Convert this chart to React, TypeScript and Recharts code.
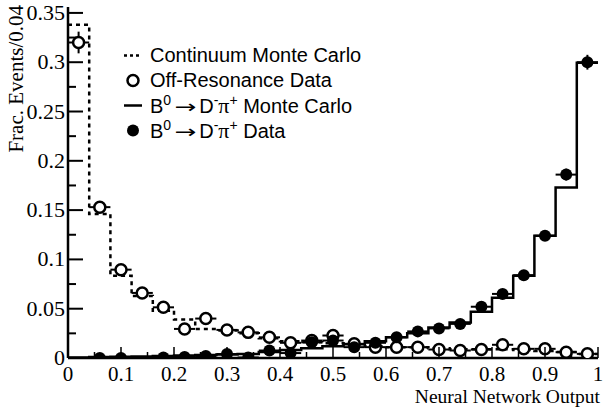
import React from 'react';
import { ComposedChart, Line, Scatter, ErrorBar, XAxis, YAxis, Legend } from 'recharts';

// bin centres (bin width 0.04)
const binCenters = [
  0.02, 0.06, 0.1, 0.14, 0.18, 0.22, 0.26, 0.3, 0.34, 0.38, 0.42, 0.46, 0.5,
  0.54, 0.58, 0.62, 0.66, 0.7, 0.74, 0.78, 0.82, 0.86, 0.9, 0.94, 0.98,
];

const continuumMC = [
  0.338, 0.146, 0.0835, 0.063, 0.048, 0.039, 0.0295, 0.028, 0.025, 0.02, 0.017, 0.016, 0.015,
  0.014, 0.012, 0.011, 0.011, 0.01, 0.009, 0.009, 0.009, 0.008, 0.007, 0.006, 0.004,
];

const signalMC = [
  0.0005, 0.001, 0.0012, 0.0015, 0.002, 0.0025, 0.003, 0.0035, 0.004, 0.006, 0.008, 0.01, 0.012,
  0.014, 0.017, 0.021, 0.025, 0.031, 0.036, 0.047, 0.061, 0.0835, 0.124, 0.173, 0.2995,
];

const offResData = [
  0.32, 0.153, 0.0896, 0.066, 0.0514, 0.0295, 0.04, 0.0285, 0.026, 0.021, 0.0154, 0.0177, 0.0228,
  0.0144, 0.011, 0.011, 0.011, 0.0086, 0.0076, 0.0086, 0.0134, 0.0093, 0.0093, 0.0059, 0.0042,
];
const offResErr = [
  0.011, 0.004, 0.003, 0.002, 0.002, 0.002, 0.002, 0.002, 0.002, 0.002, 0.002, 0.002, 0.002,
  0.002, 0.002, 0.002, 0.002, 0.002, 0.002, 0.002, 0.002, 0.002, 0.002, 0.002, 0.002,
];

const signalData = [
  null, 0, 0, null, 0.0005, 0.001, 0.002, 0.004, 0.0005, 0.0076, 0.005, 0.016, 0.0177,
  0.011, 0.0154, 0.021, 0.027, 0.03, 0.0346, 0.052, 0.065, 0.084, 0.124, 0.186, 0.3,
];
const signalErr = [
  0, 0.001, 0.001, 0, 0.001, 0.001, 0.001, 0.001, 0.001, 0.001, 0.001, 0.002, 0.002,
  0.002, 0.002, 0.002, 0.002, 0.002, 0.002, 0.003, 0.003, 0.003, 0.004, 0.006, 0.0075,
];

const xTicks = [0, 0.05, 0.1, 0.15, 0.2, 0.25, 0.3, 0.35, 0.4, 0.45, 0.5, 0.55, 0.6, 0.65, 0.7, 0.75, 0.8, 0.85, 0.9, 0.95, 1];
const xTickLabels = ['0', '0.1', '0.2', '0.3', '0.4', '0.5', '0.6', '0.7', '0.8', '0.9', '1'];
const yTicks = [0, 0.025, 0.05, 0.075, 0.1, 0.125, 0.15, 0.175, 0.2, 0.225, 0.25, 0.275, 0.3, 0.325, 0.35];
const yTickLabels = ['0', '0.05', '0.1', '0.15', '0.2', '0.25', '0.3', '0.35'];

const HALF_BIN = 0.02;

const stepData = binCenters.map((c, i) => ({
  x: +(c - HALF_BIN).toFixed(2),
  cont: continuumMC[i],
  sig: signalMC[i],
}));
stepData.push({ x: 1, cont: continuumMC[continuumMC.length - 1], sig: signalMC[signalMC.length - 1] });

const offResPoints = binCenters.map((c, i) => ({ x: c, y: offResData[i], ex: HALF_BIN, ey: offResErr[i] }));
const signalPoints = binCenters
  .map((c, i) => ({ x: c, y: signalData[i], ex: HALF_BIN, ey: signalErr[i] }))
  .filter((p) => p.y !== null);

const SERIF = '"Liberation Serif", "Times New Roman", serif';
const SANS = '"Liberation Sans", Arial, sans-serif';

const isMajor = (v: number, step: number) => Math.abs(v / step - Math.round(v / step)) < 1e-6;

const BottomTick = (p: any) => {
  const v = p.payload.value;
  const major = isMajor(v, 0.1);
  return (
    <g>
      <line x1={p.x} y1={p.y} x2={p.x} y2={p.y - (major ? 11 : 6)} stroke="#000" strokeWidth={1.5} />
      {major && (
        <text x={p.x} y={p.y + 23} textAnchor="middle" fontFamily={SERIF} fontSize={21} fill="#000">
          {xTickLabels[Math.round(v / 0.1)]}
        </text>
      )}
    </g>
  );
};

const TopTick = (p: any) => {
  const major = isMajor(p.payload.value, 0.1);
  return <line x1={p.x} y1={p.y} x2={p.x} y2={p.y + (major ? 11 : 6)} stroke="#000" strokeWidth={1.5} />;
};

const LeftTick = (p: any) => {
  const v = p.payload.value;
  const major = isMajor(v, 0.05);
  return (
    <g>
      <line x1={p.x} y1={p.y} x2={p.x + (major ? 15 : 8)} y2={p.y} stroke="#000" strokeWidth={2} />
      {major && (
        <text x={p.x - 3} y={p.y + 7} textAnchor="end" fontFamily={SERIF} fontSize={22} fill="#000">
          {yTickLabels[Math.round(v / 0.05)]}
        </text>
      )}
    </g>
  );
};

const RightTick = (p: any) => {
  const major = isMajor(p.payload.value, 0.05);
  return <line x1={p.x} y1={p.y} x2={p.x - (major ? 15 : 8)} y2={p.y} stroke="#000" strokeWidth={2} />;
};

const OpenDot = (p: any) => <circle cx={p.cx} cy={p.cy} r={5.5} fill="#fff" stroke="#000" strokeWidth={2.5} />;
const FilledDot = (p: any) => <circle cx={p.cx} cy={p.cy} r={6} fill="#000" />;

const sup: React.CSSProperties = { fontSize: 14, position: 'relative', top: -8 };

const Decay = () => (
  <>
    B<span style={sup}>0</span>
    <span
      style={{
        display: 'inline-block',
        fontFamily: '"DejaVu Sans", sans-serif',
        fontSize: 18,
        margin: '0 6px 0 7px',
        transform: 'scaleX(1.45)',
      }}
    >
      →
    </span>
    D<span style={sup}>-</span>
    <span style={{ fontFamily: SERIF, fontSize: 22 }}>π</span>
    <span style={sup}>+</span>
  </>
);

const LegendBox = () => {
  const rows = [
    {
      icon: <line x1={2} y1={12.5} x2={20} y2={12.5} stroke="#000" strokeWidth={2.5} strokeDasharray="3 3" />,
      text: <>Continuum Monte Carlo</>,
    },
    {
      icon: <circle cx={11} cy={12.5} r={5.5} fill="#fff" stroke="#000" strokeWidth={2.5} />,
      text: <>Off-Resonance Data</>,
    },
    {
      icon: <line x1={2} y1={12.5} x2={20} y2={12.5} stroke="#000" strokeWidth={2.5} />,
      text: <><Decay /> Monte Carlo</>,
    },
    {
      icon: <circle cx={11} cy={12.5} r={6} fill="#000" />,
      text: <><Decay /> Data</>,
    },
  ];
  return (
    <div style={{ fontFamily: SANS, fontSize: 20, color: '#000' }}>
      {rows.map((r, i) => (
        <div key={i} style={{ display: 'flex', alignItems: 'center', height: 25, whiteSpace: 'nowrap' }}>
          <svg width={22} height={25}>{r.icon}</svg>
          <span style={{ marginLeft: 6 }}>{r.text}</span>
        </div>
      ))}
    </div>
  );
};

export default function App() {
  return (
    <div style={{ position: 'absolute', left: 0, top: 0, width: 605, height: 408, background: '#fff' }}>
      <ComposedChart width={605} height={408} margin={{ top: 7, right: 7, bottom: 0, left: 8 }}>
        <XAxis
          dataKey="x"
          type="number"
          domain={[0, 1]}
          ticks={xTicks}
          interval={0}
          allowDataOverflow
          height={50}
          tickSize={0}
          tickMargin={0}
          tick={BottomTick}
          axisLine={{ stroke: '#000', strokeWidth: 2.5 }}
          label={{
            content: () => (
              <text x={600} y={403} textAnchor="end" fontFamily={SERIF} fontSize={19.5} fill="#000">
                Neural Network Output
              </text>
            ),
          }}
        />
        <XAxis
          xAxisId="top"
          orientation="top"
          dataKey="x"
          type="number"
          domain={[0, 1]}
          ticks={xTicks}
          interval={0}
          allowDataOverflow
          height={0}
          tickSize={0}
          tickMargin={0}
          tick={TopTick}
          axisLine={{ stroke: '#000', strokeWidth: 2.5 }}
        />
        <YAxis
          type="number"
          domain={[0, 0.356]}
          ticks={yTicks}
          interval={0}
          allowDataOverflow
          width={60}
          tickSize={0}
          tickMargin={0}
          tick={LeftTick}
          axisLine={{ stroke: '#000', strokeWidth: 2.5 }}
          label={{
            content: () => (
              <text
                x={23}
                y={5}
                transform="rotate(-90 23 5)"
                textAnchor="end"
                fontFamily={SERIF}
                fontSize={21}
                fill="#000"
              >
                Frac. Events/0.04
              </text>
            ),
          }}
        />
        <YAxis
          yAxisId="right"
          orientation="right"
          type="number"
          domain={[0, 0.356]}
          ticks={yTicks}
          interval={0}
          allowDataOverflow
          width={0}
          tickSize={0}
          tickMargin={0}
          tick={RightTick}
          axisLine={{ stroke: '#000', strokeWidth: 2.5 }}
        />
        <Legend
          layout="vertical"
          align="center"
          verticalAlign="middle"
          content={() => <LegendBox />}
          wrapperStyle={{ position: 'absolute', left: 122, top: 43, width: 300, height: 100 }}
        />
        <Line
          data={stepData}
          dataKey="cont"
          type="stepAfter"
          stroke="#000"
          strokeWidth={2.5}
          strokeDasharray="4 4"
          dot={false}
          isAnimationActive={false}
        />
        <Line
          data={stepData}
          dataKey="sig"
          type="stepAfter"
          stroke="#000"
          strokeWidth={2.5}
          dot={false}
          isAnimationActive={false}
        />
        <Scatter data={offResPoints} dataKey="y" shape={OpenDot} isAnimationActive={false}>
          <ErrorBar dataKey="ex" direction="x" width={0} stroke="#000" strokeWidth={2} />
          <ErrorBar dataKey="ey" direction="y" width={0} stroke="#000" strokeWidth={2} />
        </Scatter>
        <Scatter data={signalPoints} dataKey="y" shape={FilledDot} isAnimationActive={false}>
          <ErrorBar dataKey="ex" direction="x" width={0} stroke="#000" strokeWidth={2} />
          <ErrorBar dataKey="ey" direction="y" width={0} stroke="#000" strokeWidth={2} />
        </Scatter>
      </ComposedChart>
    </div>
  );
}
